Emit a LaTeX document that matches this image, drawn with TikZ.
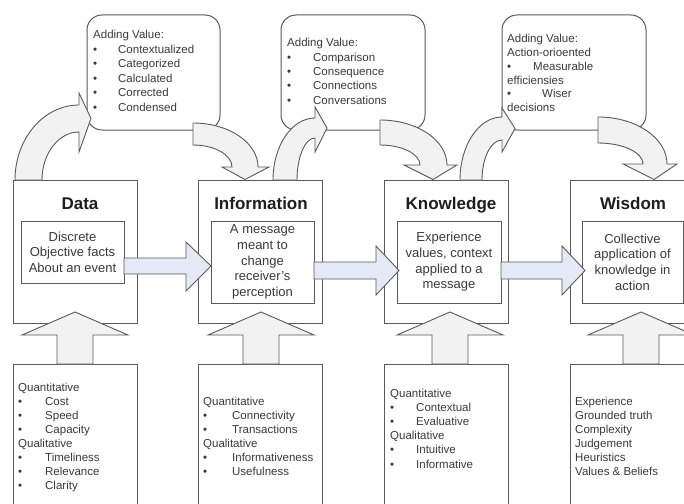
\documentclass[tikz,border=0pt]{standalone}
\usepackage{fontspec}
\setmainfont{Liberation Sans}
\definecolor{ln}{HTML}{5A5A5A}
\definecolor{txt}{HTML}{3A3A3A}
\definecolor{ttl}{HTML}{1E1E1E}
\definecolor{arrfill}{HTML}{F2F2F2}
\definecolor{hfill}{HTML}{E3EAF5}
\newcommand\bi[2][26pt]{\makebox[#1][l]{\textbullet}#2}
% curved up arrow: cx, Ro, So, Ri, Si, head top y, tip x, tip y, head bottom y
\newcommand\curveup[9]{\draw[blk] ({#1-#2},180) .. controls ({#1-#2},{180-0.5523*#3}) and ({#1-0.5523*#2},{180-#3}) .. (#1,{180-#3}) -- (#1,#6) -- (#7,#8) -- (#1,#9) -- (#1,{180-#5}) .. controls ({#1-0.5523*#4},{180-#5}) and ({#1-#4},{180-0.5523*#5}) .. ({#1-#4},180) -- cycle;}
% curved down arrow: tail x, outer y, inner y, head base y, Ro, Ri, head left, head right, tip x
\newcommand\curvedown[9]{\draw[blk] (#1,#2) .. controls ({#1+0.5523*#5},#2) and ({#1+#5},{#4-0.5523*(#4-#2)}) .. ({#1+#5},#4) -- (#8,#4) -- (#9,179.5) -- (#7,#4) -- ({#1+#6},#4) .. controls ({#1+#6},{#4-0.5523*(#4-#3)}) and ({#1+0.5523*#6},#3) .. (#1,#3) -- cycle;}
\newcommand\botarr[1]{\draw[blk] ({#1-18},364) -- ({#1-18},335) -- ({#1-53},335) -- (#1,312) -- ({#1+53},335) -- ({#1+18},335) -- ({#1+18},364) -- cycle;}
\begin{document}
\begin{tikzpicture}[x=1pt,y=-1pt,
  box/.style={draw=ln,line width=1pt,fill=white,inner sep=0,outer sep=0},
  callout/.style={draw=ln,line width=1pt,rounded corners=15pt,fill=white},
  blk/.style={draw=ln,line width=0.9pt,fill=arrfill,line join=miter},
  harrow/.style={draw=ln,line width=0.9pt,fill=hfill},
  lst/.style={inner sep=0,anchor=base west,text=txt,font=\fontsize{11.5}{14.2}\selectfont},
  ttlst/.style={inner sep=0,anchor=base,text=ttl,font=\fontsize{17}{20}\selectfont\bfseries},
  inr/.style={box,align=center,text=txt,font=\fontsize{13}{15.6}\selectfont}]
\useasboundingbox (0,0) rectangle (684,503);
\clip (0,0) rectangle (684,503);
\fill[white] (0,0) rectangle (684,503);

% callouts
\draw[callout] (87,15) rectangle (220,130);
\draw[callout] (281,15) rectangle (425,130);
\draw[callout] (502,15) rectangle (646,130);

% main boxes
\node[box,minimum width=124pt,minimum height=143pt] (data) at (75,251.5) {};
\node[box,minimum width=124pt,minimum height=143pt] (info) at (260,251.5) {};
\node[box,minimum width=124pt,minimum height=143pt] (know) at (446,251.5) {};
\node[box,minimum width=126pt,minimum height=143pt] (wis) at (633,251.5) {};

% lower boxes
\node[box,minimum width=124pt,minimum height=160pt] (datal) at (75,444) {};
\node[box,minimum width=124pt,minimum height=160pt] (infol) at (260,444) {};
\node[box,minimum width=124pt,minimum height=160pt] (knowl) at (446,444) {};
\node[box,minimum width=126pt,minimum height=160pt] (wisl) at (633,444) {};

% titles
\node[ttlst] (tdata) at (80,209) {Data};
\node[ttlst] (tinfo) at (261,209) {Information};
\node[ttlst] (tknow) at (451,209) {Knowledge};
\node[ttlst] (twis) at (633,209) {Wisdom};

% inner boxes
\node[inr,minimum width=103pt,minimum height=62pt] (datai) at (72.5,252) {Discrete\\Objective facts\\About an event};
\node[inr,minimum width=103pt,minimum height=82pt] (infoi) at (262.5,262) {A message\\meant to\\change\\receiver's\\perception};
\node[inr,minimum width=104pt,minimum height=82pt] (knowi) at (449,262) {Experience\\values, context\\applied to a\\message};
\node[inr,minimum width=101pt,minimum height=82pt] (wisi) at (632.5,262) {Collective\\application of\\knowledge in\\action};

% curved arrows
\curveup{79}{64}{75}{37}{48}{93}{91}{118.5}{152}
\curveup{315}{42}{62}{18}{42}{107}{327}{128}{152}
\curveup{502}{42}{63}{20}{40}{108}{515}{128.5}{152}
\curvedown{193}{123}{145}{167}{65}{39}{222}{269}{245}
\curvedown{380}{120}{145}{165}{67}{40}{404}{457}{433}
\curvedown{598}{117}{143}{164}{69}{45}{623}{677}{654}

% horizontal arrows
\draw[harrow] (124,258) -- (186,258) -- (186,242) -- (211,266) -- (186,291) -- (186,274) -- (124,274) -- cycle;
\draw[harrow] (314,262) -- (376,262) -- (376,246) -- (399,270.5) -- (376,295) -- (376,279) -- (314,279) -- cycle;
\draw[harrow] (501,262) -- (562,262) -- (562,246) -- (585,270.5) -- (562,295) -- (562,279) -- (501,279) -- cycle;

% bottom arrows
\botarr{75}
\botarr{261}
\botarr{450}
\botarr{641}

% callout texts
\node[lst,font=\fontsize{11.5}{14.4}\selectfont] (c1) at (93,39) {\begin{tabular}[t]{@{}l@{}}Adding Value:\\\bi[25pt]{Contextualized}\\\bi[25pt]{Categorized}\\\bi[25pt]{Calculated}\\\bi[25pt]{Corrected}\\\bi[25pt]{Condensed}\end{tabular}};
\node[lst,font=\fontsize{11.5}{14.25}\selectfont] (c2) at (287,47) {\begin{tabular}[t]{@{}l@{}}Adding Value:\\\bi{Comparison}\\\bi{Consequence}\\\bi{Connections}\\\bi{Conversations}\end{tabular}};
\node[lst,font=\fontsize{11.5}{13.7}\selectfont] (c3) at (507,43) {\begin{tabular}[t]{@{}l@{}}Adding Value:\\Action-orioented\\\bi{Measurable}\\efficiensies\\\bi[35pt]{Wiser}\\decisions\end{tabular}};

% lower texts
\node[lst,font=\fontsize{11.5}{14}\selectfont] (l1) at (18,391) {\begin{tabular}[t]{@{}l@{}}Quantitative\\\bi[27pt]{Cost}\\\bi[27pt]{Speed}\\\bi[27pt]{Capacity}\\Qualitative\\\bi[27pt]{Timeliness}\\\bi[27pt]{Relevance}\\\bi[27pt]{Clarity}\end{tabular}};
\node[lst,font=\fontsize{11.5}{14}\selectfont] (l2) at (203,405) {\begin{tabular}[t]{@{}l@{}}Quantitative\\\bi[29pt]{Connectivity}\\\bi[29pt]{Transactions}\\Qualitative\\\bi[29pt]{Informativeness}\\\bi[29pt]{Usefulness}\end{tabular}};
\node[lst,font=\fontsize{11.5}{14.2}\selectfont] (l3) at (390,397) {\begin{tabular}[t]{@{}l@{}}Quantitative\\\bi{Contextual}\\\bi{Evaluative}\\Qualitative\\\bi{Intuitive}\\\bi{Informative}\end{tabular}};
\node[lst,font=\fontsize{11.5}{14}\selectfont] (l4) at (575,405) {\begin{tabular}[t]{@{}l@{}}Experience\\Grounded truth\\Complexity\\Judgement\\Heuristics\\Values \& Beliefs\end{tabular}};
\end{tikzpicture}
\end{document}
